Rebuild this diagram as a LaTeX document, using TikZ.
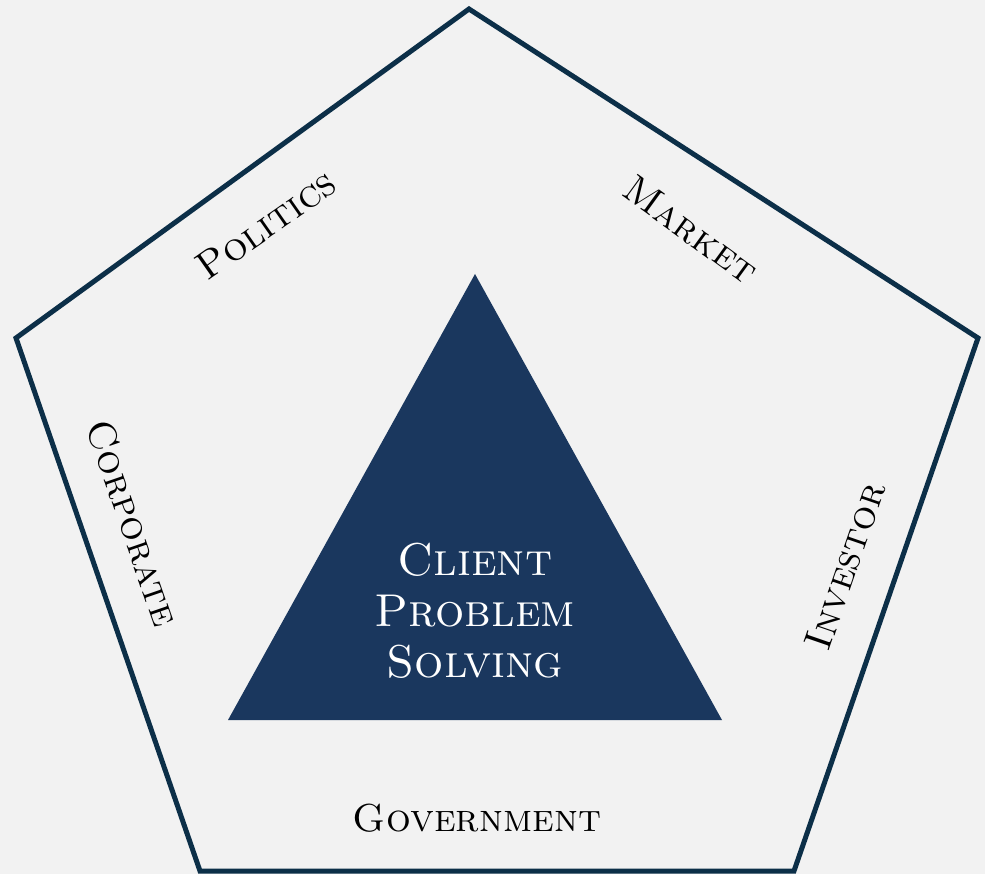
\documentclass[tikz,border=0pt]{standalone}
\usepackage{fontspec}
\definecolor{bgc}{HTML}{F2F2F2}
\definecolor{edge}{HTML}{0C2F48}
\definecolor{tri}{HTML}{1A375E}
\begin{document}
\begin{tikzpicture}[x=1pt,y=-1pt,
  lbl/.style={font=\fontsize{39}{41}\selectfont\scshape, text=black, inner sep=0pt},
  ctr/.style={font=\fontsize{46}{51}\selectfont\scshape, text=white, align=center, inner sep=0pt}]
\fill[bgc] (0,0) rectangle (985,874);
\useasboundingbox (0,0) rectangle (985,874);
\coordinate (p1) at (469,9);
\coordinate (p2) at (978,338);
\coordinate (p3) at (794,871);
\coordinate (p4) at (200,871);
\coordinate (p5) at (16,338);
\draw[edge, line width=5pt, line join=miter] (p1) -- (p2) -- (p3) -- (p4) -- (p5) -- cycle;
\coordinate (t1) at (475,274);
\coordinate (t2) at (722,720);
\coordinate (t3) at (228,720);
\fill[tri] (t1) -- (t2) -- (t3) -- cycle;
\node[ctr] (c) at (475,611) {Client\\Problem\\Solving};
\node[lbl] (gov) at (477,818) {Government};
\node[lbl, rotate=35] (pol) at (266,225) {Politics};
\node[lbl, rotate=-36] (mkt) at (691,230) {Market};
\node[lbl, rotate=-71] (corp) at (133,523) {Corporate};
\node[lbl, rotate=71] (inv) at (845,566) {Investor};
\end{tikzpicture}
\end{document}
